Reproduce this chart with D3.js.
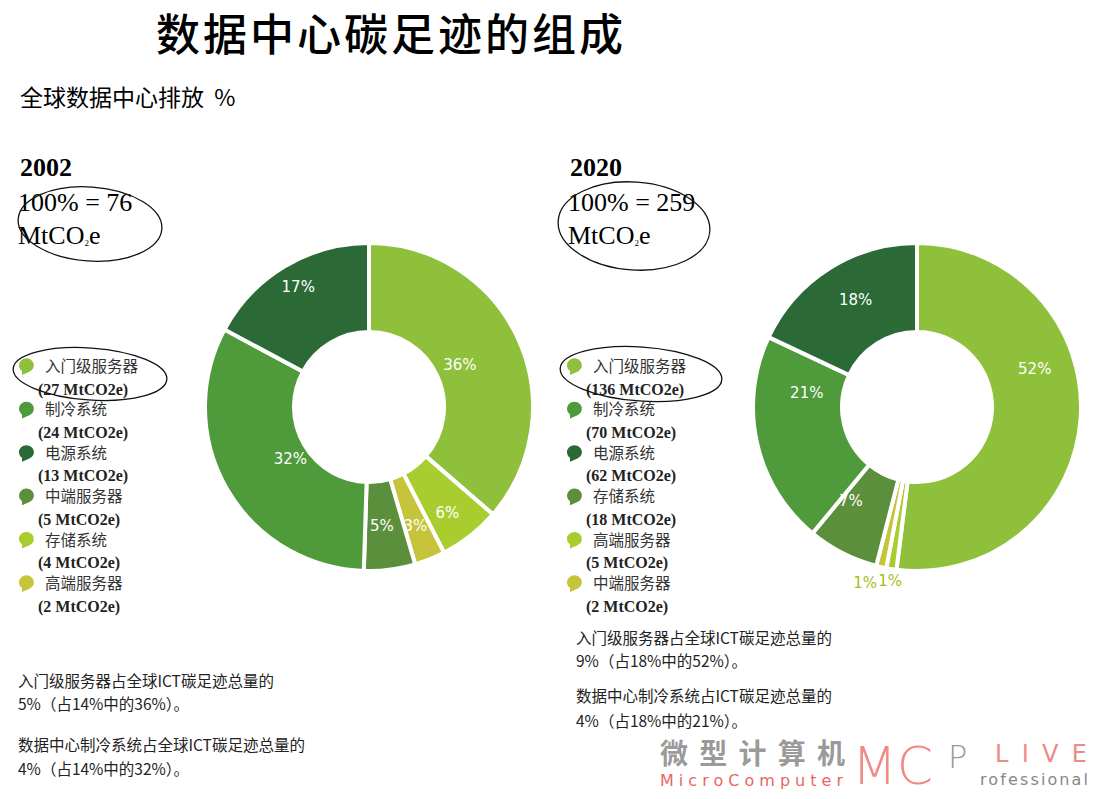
<!DOCTYPE html>
<html>
<head>
<meta charset="utf-8">
<script src="https://cdn.jsdelivr.net/npm/d3@7"></script>
<style>
  body { margin: 0; background: #fff; }
  svg { display: block; }
</style>
</head>
<body>
<div id="container"></div>
<script>
// ---- data ----
const years = ["2002", "2020"];
const totals = [76, 259];

// slices in clockwise order from 12 o'clock
const slices2002 = ["入门级服务器", "存储系统", "高端服务器", "中端服务器", "制冷系统", "电源系统"];
const share2002 = [36, 6, 3, 5, 32, 17];
const slices2020 = ["入门级服务器", "高端服务器", "中端服务器", "存储系统", "制冷系统", "电源系统"];
const share2020 = [52, 1, 1, 7, 21, 18];

// legend entries
const legend2002 = ["入门级服务器", "制冷系统", "电源系统", "中端服务器", "存储系统", "高端服务器"];
const legendVal2002 = [27, 24, 13, 5, 4, 2];
const legend2020 = ["入门级服务器", "制冷系统", "电源系统", "存储系统", "高端服务器", "中端服务器"];
const legendVal2020 = [136, 70, 62, 18, 5, 2];

const notes2002 = ["入门级服务器占全球ICT碳足迹总量的", "5%（占14%中的36%）。",
                   "数据中心制冷系统占全球ICT碳足迹总量的", "4%（占14%中的32%）。"];
const notes2020 = ["入门级服务器占全球ICT碳足迹总量的", "9%（占18%中的52%）。",
                   "数据中心制冷系统占ICT碳足迹总量的", "4%（占18%中的21%）。"];

const colors = {
    "入门级服务器": "#8fc03c",
    "制冷系统": "#4f9a3b",
    "电源系统": "#2b6a36",
    "中端服务器": "#5b8f3b",
    "存储系统": "#a9cd2f",
    "高端服务器": "#c6c43a"
};
const colors2020 = Object.assign({}, colors, {
    "存储系统": "#5b8f3b",
    "高端服务器": "#a9cd2f",
    "中端服务器": "#c6c43a"
});

const W = 1098, H = 799;
const cjk = "'Noto Sans CJK SC', sans-serif";
const serif = "'Liberation Serif', 'DejaVu Serif', serif";

const svg = d3.select("#container").append("svg")
    .attr("width", W).attr("height", H);

svg.append("text")
    .attr("x", 391).attr("y", 51)
    .attr("text-anchor", "middle")
    .attr("font-family", cjk).attr("font-size", 44).attr("font-weight", 500)
    .attr("letter-spacing", 3)
    .text("数据中心碳足迹的组成");

svg.append("text")
    .attr("x", 20).attr("y", 96)
    .attr("dominant-baseline", "central")
    .attr("font-family", cjk).attr("font-size", 23)
    .text("全球数据中心排放\u00a0\u00a0%");

function header(x, year, total, ell) {
    const g = svg.append("g");
    g.append("text").attr("x", x).attr("y", 176)
        .attr("font-family", serif).attr("font-size", 26).attr("font-weight", "bold")
        .text(year);
    g.append("text").attr("x", x - 2).attr("y", 211)
        .attr("font-family", serif).attr("font-size", 26)
        .text("100% = " + total);
    const t = g.append("text").attr("x", x - 2).attr("y", 244)
        .attr("font-family", serif).attr("font-size", 26);
    t.append("tspan").text("MtCO");
    t.append("tspan").attr("font-size", 9).attr("dy", 2).text("2");
    t.append("tspan").attr("dy", -2).text("e");
    g.append("ellipse")
        .attr("cx", ell[0]).attr("cy", ell[1]).attr("rx", ell[2]).attr("ry", ell[3])
        .attr("fill", "none").attr("stroke", "#111").attr("stroke-width", 1.3)
        .attr("transform", `rotate(4 ${ell[0]} ${ell[1]})`);
}
header(20, years[0], totals[0], [90, 224, 72, 37]);
header(570, years[1], totals[1], [634, 226, 76, 44]);

function donut(cx, cy, names, values, cmap, labelFn) {
    const pie = d3.pie().sort(null).value(d => d);
    const arcs = pie(values);
    const arc = d3.arc().innerRadius(75).outerRadius(164);
    const g = svg.append("g").attr("transform", `translate(${cx},${cy})`);
    g.selectAll("path").data(arcs).join("path")
        .attr("d", arc)
        .attr("fill", (d, i) => cmap[names[i]])
        .attr("stroke", "#fff").attr("stroke-width", 4)
        .attr("stroke-linejoin", "miter");
    labelFn(g, arcs);
}

function pct(g, arcs, i, r, dx, dy, color) {
    const a = (arcs[i].startAngle + arcs[i].endAngle) / 2;
    g.append("text")
        .attr("x", r * Math.sin(a) + (dx || 0))
        .attr("y", -r * Math.cos(a) + (dy || 0))
        .attr("text-anchor", "middle").attr("dominant-baseline", "central")
        .attr("font-family", "'DejaVu Sans', sans-serif").attr("font-size", 15)
        .attr("fill", color || "#fff")
        .text(arcs[i].value + "%");
}

donut(369, 407, slices2002, share2002, colors, (g, arcs) => {
    pct(g, arcs, 0, 100);
    pct(g, arcs, 1, 135, -5, 0);
    pct(g, arcs, 2, 125, 0, 3);
    pct(g, arcs, 3, 118, -2, 2);
    pct(g, arcs, 4, 100, 8, 2);
    pct(g, arcs, 5, 130, -4, -8);
});

donut(917, 407, slices2020, share2020, colors2020, (g, arcs) => {
    pct(g, arcs, 0, 125, -7, -46);
    pct(g, arcs, 3, 115, -14, -8);
    pct(g, arcs, 4, 115, 2, -39);
    pct(g, arcs, 5, 120, 3, -6);
    // the two thin slices are labelled below the ring
    pct(g, arcs, 1, 178, -24, 0, "#9fbf20");
    pct(g, arcs, 2, 178, 12, 0, "#9fbf20");
});

function blob(g, x, y, color) {
    g.append("path")
        .attr("d", `M${x - 5},${y + 6} A7.5,7 0 1 1 ${x + 3},${y + 6.5} L${x - 5},${y + 10} Z`)
        .attr("fill", color);
}

function legend(x, names, vals, cmap, ell) {
    const g = svg.append("g");
    names.forEach((n, i) => {
        const y = 365 + i * 43.4;
        blob(g, x, y, cmap[n]);
        g.append("text").attr("x", x + 18).attr("y", y)
            .attr("dominant-baseline", "central")
            .attr("font-family", cjk).attr("font-size", 15.5).attr("fill", "#333")
            .text(n);
        g.append("text").attr("x", x + 11).attr("y", y + 24)
            .attr("dominant-baseline", "central")
            .attr("font-family", serif).attr("font-size", 16).attr("font-weight", "bold").attr("fill", "#222")
            .text(`(${vals[i]} MtCO2e)`);
    });
    g.append("ellipse")
        .attr("cx", ell[0]).attr("cy", ell[1]).attr("rx", ell[2]).attr("ry", ell[3])
        .attr("fill", "none").attr("stroke", "#111").attr("stroke-width", 1.3)
        .attr("transform", `rotate(4 ${ell[0]} ${ell[1]})`);
}
legend(27, legend2002, legendVal2002, colors, [90, 374, 77, 26]);
legend(575, legend2020, legendVal2020, colors2020, [641, 374, 81, 27]);

function notes(x, ys, lines) {
    lines.forEach((l, i) => {
        svg.append("text").attr("x", x).attr("y", ys[i])
            .attr("dominant-baseline", "central")
            .attr("font-family", cjk).attr("font-size", 15.5).attr("fill", "#222")
            .text(l);
    });
}
notes(18, [680, 703, 744, 768], notes2002);
notes(576, [637, 660, 695, 720], notes2020);

// watermark
const wm = svg.append("g");
wm.append("text").attr("x", 660).attr("y", 764)
    .attr("font-family", cjk).attr("font-size", 28).attr("font-weight", "bold")
    .attr("fill", "#9a9a9a").attr("textLength", 185)
    .text("微型计算机");
wm.append("text").attr("x", 660).attr("y", 786)
    .attr("font-family", "'DejaVu Sans', sans-serif").attr("font-size", 16)
    .attr("fill", "#e8675f").attr("textLength", 183)
    .text("MicroComputer");
wm.append("text").attr("x", 852).attr("y", 784)
    .attr("font-family", "'DejaVu Sans', sans-serif").attr("font-size", 52).attr("font-weight", 200)
    .attr("fill", "#f08a86")
    .text("MC");
wm.append("text").attr("x", 948).attr("y", 768)
    .attr("font-family", "'DejaVu Sans', sans-serif").attr("font-size", 32).attr("font-weight", 200)
    .attr("fill", "#999").text("P");
wm.append("text").attr("x", 995).attr("y", 762)
    .attr("font-family", "'DejaVu Sans', sans-serif").attr("font-size", 24)
    .attr("fill", "#f08a86").attr("textLength", 92)
    .text("LIVE");
wm.append("text").attr("x", 980).attr("y", 785)
    .attr("font-family", "'DejaVu Sans', sans-serif").attr("font-size", 16)
    .attr("fill", "#888").attr("textLength", 108)
    .text("rofessional");
</script>
</body>
</html>
